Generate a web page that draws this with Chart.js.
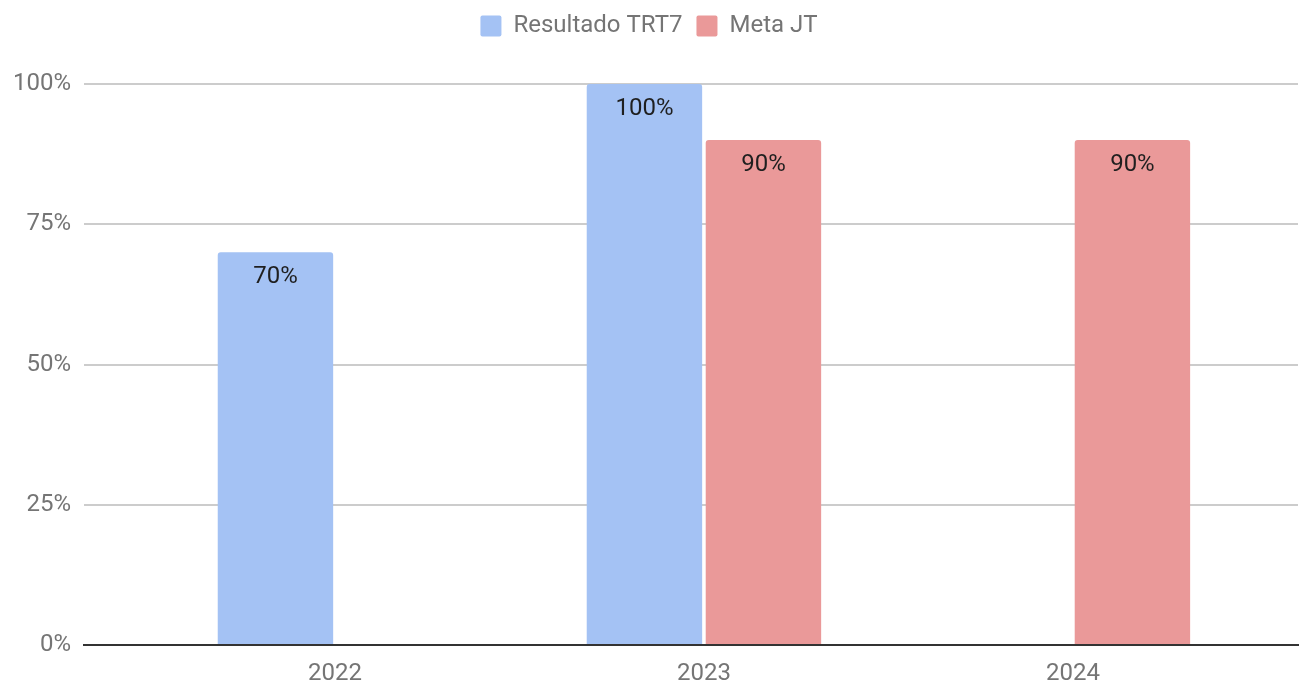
<!DOCTYPE html>
<html>
<head>
<meta charset="utf-8">
<script src="https://cdn.jsdelivr.net/npm/chart.js@4.4.1/dist/chart.umd.min.js"></script>
<style>
  html, body { margin: 0; padding: 0; background: #fff; }
  #wrap { width: 1301px; height: 683px; position: relative; }
</style>
</head>
<body>
<div id="wrap"><canvas id="grafico"></canvas></div>
<script>
// dados
const anos = [2022, 2023, 2024];
const resultadoTRT7 = [70, 100, null];
const metaJT = [null, 90, 90];
const yTicks = [0, 25, 50, 75, 100];

const corResultado = '#a4c2f4';
const corMeta = '#ea9999';
const cinza = '#757575';
const fonte = 'Roboto';

// rótulos dentro das barras
const rotulosBarras = {
    id: 'rotulosBarras',
    afterDatasetsDraw(chart) {
        const ctx = chart.ctx;
        ctx.save();
        ctx.font = '24px ' + fonte;
        ctx.fillStyle = '#1f1f1f';
        ctx.textAlign = 'center';
        ctx.textBaseline = 'middle';
        chart.data.datasets.forEach((ds, i) => {
            chart.getDatasetMeta(i).data.forEach((bar, j) => {
                const v = ds.data[j].y;
                if (v == null) return;
                ctx.fillText(v + '%', bar.x, bar.y + 25);
            });
        });
        ctx.restore();
    }
};

// espaço extra entre a legenda e o gráfico
const espacoLegenda = {
    id: 'espacoLegenda',
    beforeInit(chart) {
        const fitOrig = chart.legend.fit;
        chart.legend.fit = function () {
            fitOrig.call(this);
            this.height += 36;
        };
    }
};

function pontos(valores) {
    return anos.map((a, i) => ({ x: a, y: valores[i] }));
}

new Chart(document.getElementById('grafico'), {
    type: 'bar',
    data: {
        datasets: [
            {
                label: 'Resultado TRT7',
                data: pontos(resultadoTRT7),
                backgroundColor: corResultado,
                borderRadius: { topLeft: 3, topRight: 3 },
                borderSkipped: 'start',
                barPercentage: 0.97,
                categoryPercentage: 0.645
            },
            {
                label: 'Meta JT',
                data: pontos(metaJT),
                backgroundColor: corMeta,
                borderRadius: { topLeft: 3, topRight: 3 },
                borderSkipped: 'start',
                barPercentage: 0.97,
                categoryPercentage: 0.645
            }
        ]
    },
    options: {
        responsive: true,
        maintainAspectRatio: false,
        animation: false,
        layout: { padding: { left: 0, right: 3, top: 0, bottom: 0 } },
        plugins: {
            legend: {
                position: 'top',
                labels: {
                    font: { family: fonte, size: 24 },
                    color: cinza,
                    boxWidth: 21,
                    boxHeight: 21,
                    useBorderRadius: true,
                    borderRadius: 2,
                    padding: 14
                }
            },
            tooltip: { enabled: false }
        },
        scales: {
            x: {
                type: 'linear',
                offset: false,
                min: 2021.32,
                max: 2024.61,
                afterBuildTicks: s => { s.ticks = anos.map(a => ({ value: a })); },
                afterFit: s => { s.height = 38; },
                ticks: {
                    font: { family: fonte, size: 24, lineHeight: 1 },
                    color: cinza,
                    padding: 9,
                    callback: v => String(v)
                },
                grid: { display: false, offset: false },
                border: { display: true, color: '#333333', width: 2 }
            },
            y: {
                min: 0,
                max: 100,
                afterBuildTicks: s => { s.ticks = yTicks.map(v => ({ value: v })); },
                ticks: {
                    font: { family: fonte, size: 24 },
                    color: cinza,
                    padding: 13,
                    callback: v => v + '%'
                },
                grid: {
                    color: c => c.tick && c.tick.value === 0 ? '#333333' : '#cccccc',
                    lineWidth: 2,
                    drawTicks: false
                },
                border: { display: false }
            }
        }
    },
    plugins: [rotulosBarras, espacoLegenda]
});
</script>
</body>
</html>
